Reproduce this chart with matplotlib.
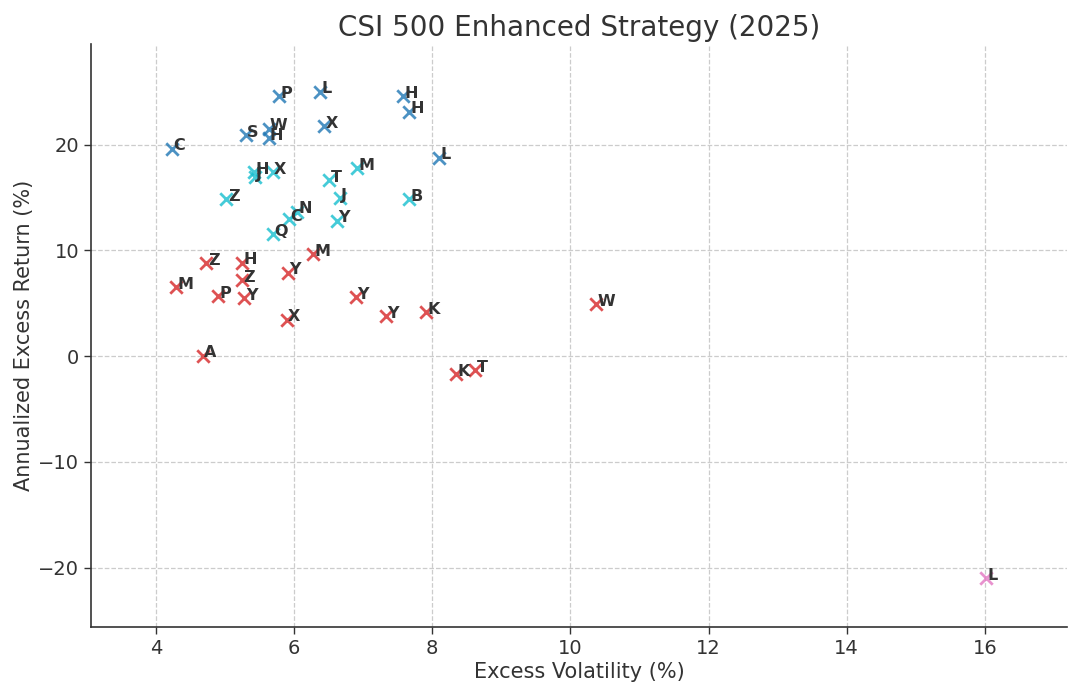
import matplotlib
matplotlib.use("Agg")
import matplotlib.pyplot as plt


# =====================================================
# DATA (excess volatility %, annualized excess return %)
# =====================================================

blue_labels = ["P", "L", "H", "H", "X", "W", "S", "H", "C", "L"]
blue_vol = [5.78, 6.37, 7.58, 7.66, 6.43, 5.63, 5.30, 5.63, 4.23, 8.10]
blue_ret = [24.6, 25.0, 24.6, 23.1, 21.75, 21.5, 20.9, 20.6, 19.6, 18.75]

cyan_labels = ["H", "J", "X", "M", "T", "J", "B", "Z", "N", "C", "Y", "Q"]
cyan_vol = [5.42, 5.43, 5.69, 6.91, 6.51, 6.66, 7.66, 5.02, 6.04, 5.93, 6.62, 5.69]
cyan_ret = [17.4, 16.9, 17.4, 17.75, 16.65, 14.95, 14.85, 14.85, 13.65, 12.95, 12.8, 11.5]

red_labels = ["M", "Z", "H", "Y", "Z", "M", "P", "Y", "Y", "Y", "K", "X", "A", "W", "K", "T"]
red_vol = [6.27, 4.73, 5.24, 5.91, 5.24, 4.29, 4.90, 5.28, 6.90, 7.33, 7.91, 5.89, 4.68, 10.37, 8.34, 8.62]
red_ret = [9.65, 8.8, 8.85, 7.9, 7.2, 6.5, 5.7, 5.45, 5.6, 3.8, 4.15, 3.45, 0.05, 4.9, -1.7, -1.3]

pink_labels = ["L"]
pink_vol = [16.02]
pink_ret = [-21.0]

groups = [
    (blue_labels, blue_vol, blue_ret, "tab:blue"),
    (cyan_labels, cyan_vol, cyan_ret, "tab:cyan"),
    (red_labels, red_vol, red_ret, "tab:red"),
    (pink_labels, pink_vol, pink_ret, "tab:pink"),
]


# =====================================================
# PLOT
# =====================================================

fig = plt.figure(figsize=(10.8, 6.94), dpi=100)
ax = fig.add_axes([0.0843, 0.0965, 0.9037, 0.8401])

for labels, xs, ys, color in groups:
    ax.scatter(xs, ys, marker="x", s=80, linewidths=2, color=color, alpha=0.8, zorder=3)
    for lab, x, y in zip(labels, xs, ys):
        ax.annotate(
            lab, (x, y),
            xytext=(1, 2), textcoords="offset points",
            ha="left", va="center",
            fontsize=11.5, fontweight="bold", color="#333333", zorder=4
        )

ax.set_xlim(3.06, 17.19)
ax.set_ylim(-25.6, 29.5)
ax.set_xticks([4, 6, 8, 10, 12, 14, 16])
ax.set_yticks([-20, -10, 0, 10, 20])

ax.grid(True, linestyle="--", color="#cccccc", linewidth=0.9)
ax.set_axisbelow(True)

for side in ["top", "right"]:
    ax.spines[side].set_visible(False)
for side in ["left", "bottom"]:
    ax.spines[side].set_color("#333333")
    ax.spines[side].set_linewidth(1.2)

ax.tick_params(labelsize=14, colors="#333333", length=5, width=1, labelcolor="#333333")

ax.set_title("CSI 500 Enhanced Strategy (2025)", fontsize=20, color="#333333", pad=6)
ax.set_xlabel("Excess Volatility (%)", fontsize=15, color="#333333", labelpad=3)
ax.set_ylabel("Annualized Excess Return (%)", fontsize=15, color="#333333", labelpad=3)

fig.savefig("out.png", dpi=100)
plt.close(fig)
